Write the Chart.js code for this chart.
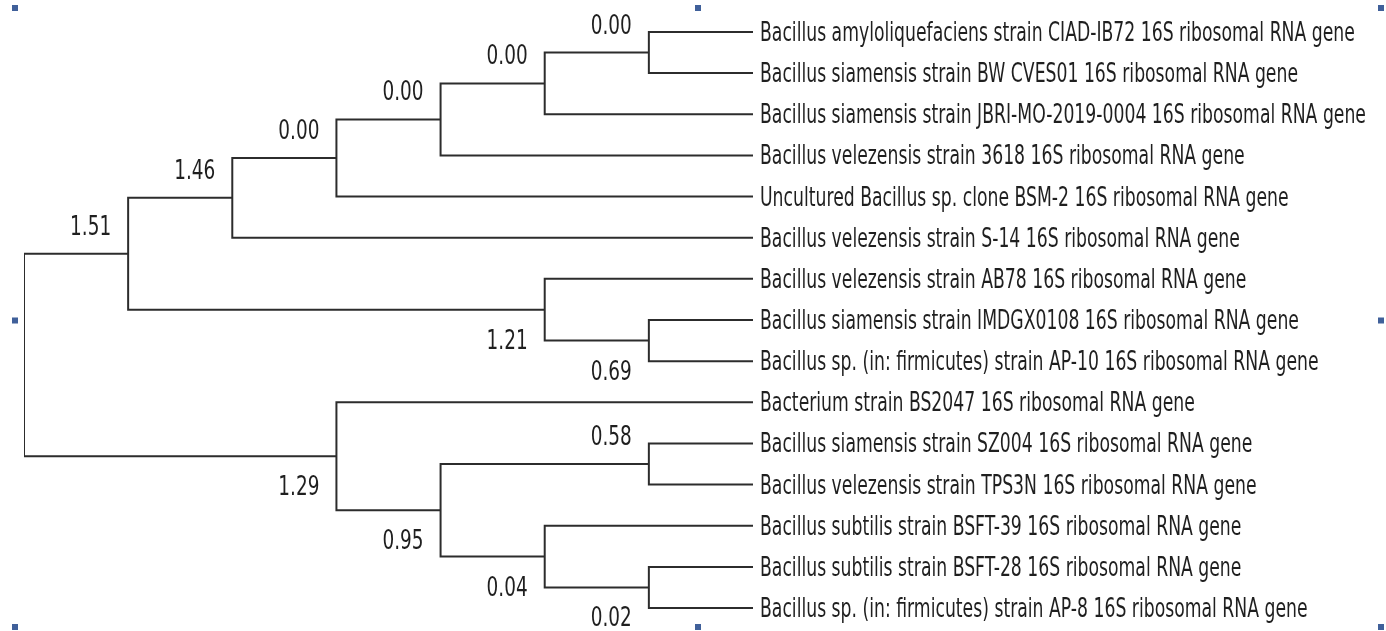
<!DOCTYPE html>
<html>
<head>
<meta charset="utf-8">
<title>16S rRNA tree</title>
<script src="https://cdn.jsdelivr.net/npm/chart.js@4/dist/chart.umd.min.js"></script>
<style>
    html, body { margin: 0; padding: 0; background: #fff; }
    #wrap { width: 1386px; height: 631px; position: relative; }
</style>
</head>
<body>
<div id="wrap"><canvas id="tree-chart"></canvas></div>
<script>
(function (window, document) {
    'use strict';

    // leaves, top to bottom
    var leafNames = [
        'Bacillus amyloliquefaciens strain CIAD-IB72 16S ribosomal RNA gene',
        'Bacillus siamensis strain BW CVES01 16S ribosomal RNA gene',
        'Bacillus siamensis strain JBRI-MO-2019-0004 16S ribosomal RNA gene',
        'Bacillus velezensis strain 3618 16S ribosomal RNA gene',
        'Uncultured Bacillus sp. clone BSM-2 16S ribosomal RNA gene',
        'Bacillus velezensis strain S-14 16S ribosomal RNA gene',
        'Bacillus velezensis strain AB78 16S ribosomal RNA gene',
        'Bacillus siamensis strain IMDGX0108 16S ribosomal RNA gene',
        'Bacillus sp. (in: firmicutes) strain AP-10 16S ribosomal RNA gene',
        'Bacterium strain BS2047 16S ribosomal RNA gene',
        'Bacillus siamensis strain SZ004 16S ribosomal RNA gene',
        'Bacillus velezensis strain TPS3N 16S ribosomal RNA gene',
        'Bacillus subtilis strain BSFT-39 16S ribosomal RNA gene',
        'Bacillus subtilis strain BSFT-28 16S ribosomal RNA gene',
        'Bacillus sp. (in: firmicutes) strain AP-8 16S ribosomal RNA gene'
    ];

    // topology, numbers are leaf indexes
    var treeShape = [
        [[[[[[0, 1], 2], 3], 4], 5], [6, [7, 8]]],
        [9, [[10, 11], [12, [13, 14]]]]
    ];

    // node values, internal nodes in preorder (root first)
    var nodeLabels = ['', '1.51', '1.46', '0.00', '0.00', '0.00', '0.00', '1.21', '0.69', '1.29', '0.95', '0.58', '0.04', '0.02'];

    var lineColor = '#2c2c2c';
    var textColor = '#1f1f1f';
    var fontFamily = '"DejaVu Sans", Verdana, sans-serif';

    var nodes = [];

    function height(item) {
        if (typeof item === 'number') {
            return 0;
        }
        return 1 + Math.max(height(item[0]), height(item[1]));
    }

    var maxDepth = height(treeShape);

    // returns {x, y} of the item, collects internal nodes
    function layout(item, side) {
        if (typeof item === 'number') {
            return { x: maxDepth, y: item };
        }
        var node = { side: side, label: nodeLabels[nodes.length] };
        nodes.push(node);
        var first = layout(item[0], 'up');
        var last = layout(item[1], 'down');
        node.x = maxDepth - height(item);
        node.y = (first.y + last.y) / 2;
        node.first = first;
        node.last = last;
        return node;
    }

    layout(treeShape, 'root');

    var datasets = nodes.map(function (node) {
        return {
            data: [
                { x: node.first.x, y: node.first.y },
                { x: node.x, y: node.first.y },
                { x: node.x, y: node.last.y },
                { x: node.last.x, y: node.last.y }
            ],
            showLine: true,
            borderColor: lineColor,
            borderWidth: 2,
            pointRadius: 0,
            tension: 0,
            fill: false
        };
    });

    var treeText = {
        id: 'treeText',
        afterDraw: function (chart) {
            var ctx = chart.ctx;
            var xs = chart.scales.x;
            var ys = chart.scales.y;
            var area = chart.chartArea;

            ctx.save();
            ctx.fillStyle = textColor;
            ctx.font = '26px ' + fontFamily;
            ctx.textBaseline = 'alphabetic';

            // leaf names
            ctx.textAlign = 'left';
            leafNames.forEach(function (name, i) {
                ctx.save();
                ctx.translate(area.right + 7, ys.getPixelForValue(i) + 9);
                ctx.scale(0.663, 1);
                ctx.fillText(name, 0, 0);
                ctx.restore();
            });

            // node values
            ctx.textAlign = 'right';
            nodes.forEach(function (node) {
                if (!node.label) {
                    return;
                }
                var px = xs.getPixelForValue(node.x) - 17;
                var py = ys.getPixelForValue(node.y) + (node.side === 'up' ? -19 : 39);
                ctx.save();
                ctx.translate(px, py);
                ctx.scale(0.71, 1);
                ctx.fillText(node.label, 0, 0);
                ctx.restore();
            });

            // selection handles around the picture
            ctx.fillStyle = '#40609a';
            var w = chart.width;
            var h = chart.height;
            [12, w / 2 + 2, w - 8].forEach(function (hx, col) {
                [5, h / 2 + 2, h - 7].forEach(function (hy, row) {
                    if (col === 1 && row === 1) {
                        return;
                    }
                    ctx.fillRect(hx, hy, 6, 6);
                });
            });
            ctx.restore();
        }
    };

    function init() {
        if (typeof Chart === 'undefined') {
            return;
        }

        new Chart(document.getElementById('tree-chart'), {
            type: 'scatter',
            data: { datasets: datasets },
            options: {
                responsive: true,
                maintainAspectRatio: false,
                animation: false,
                events: [],
                layout: {
                    padding: { left: 24, right: 633, top: 11.4, bottom: 2.4 }
                },
                plugins: {
                    legend: { display: false },
                    tooltip: { enabled: false }
                },
                scales: {
                    x: { type: 'linear', display: false, min: 0, max: maxDepth },
                    y: { type: 'linear', display: false, reverse: true, min: -0.5, max: leafNames.length - 0.5 }
                }
            },
            plugins: [treeText]
        });
    }

    if (document.readyState === 'loading') {
        document.addEventListener('DOMContentLoaded', init);
    } else {
        init();
    }
})(window, document);
</script>
</body>
</html>
